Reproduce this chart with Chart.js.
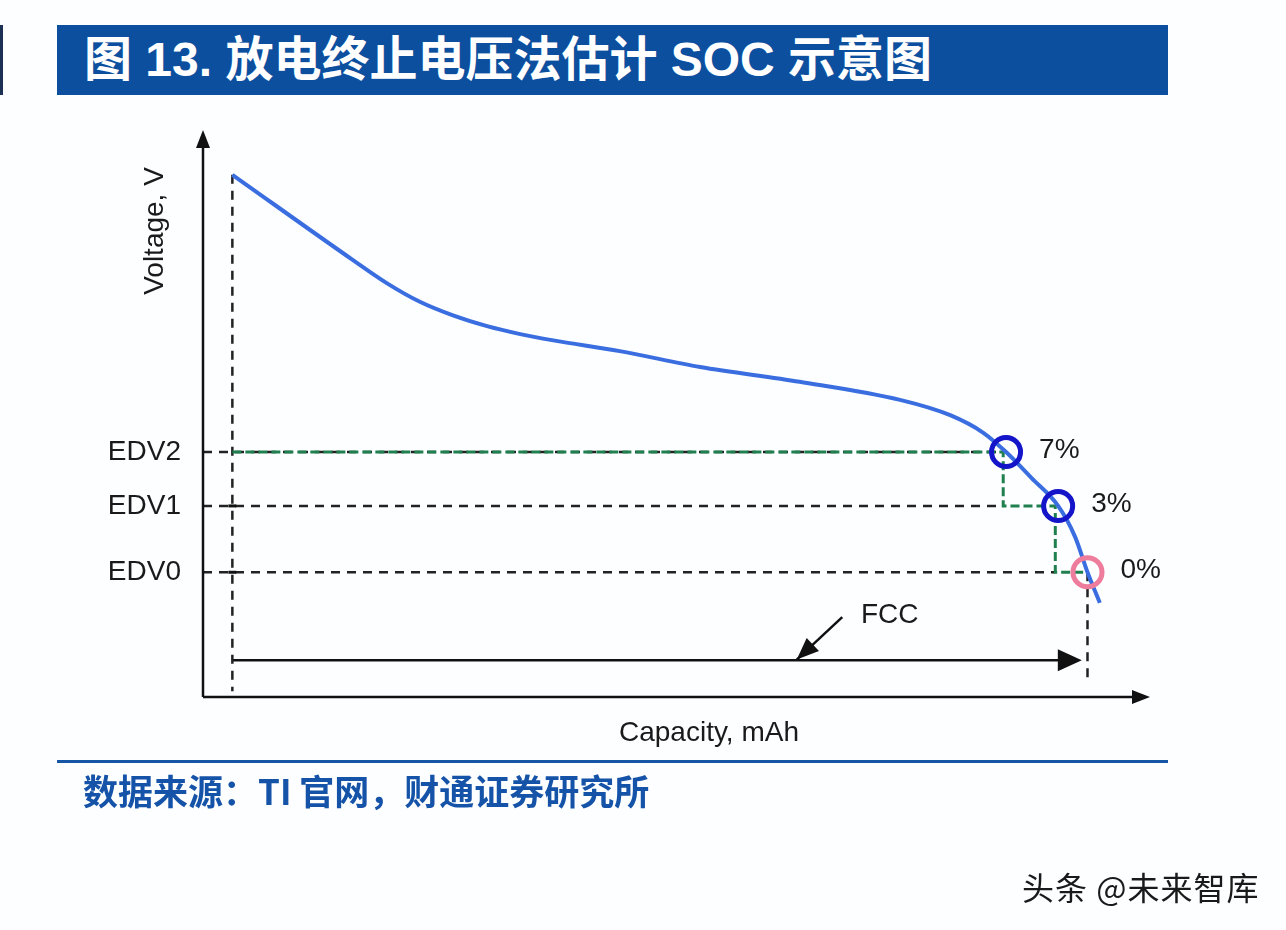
<!DOCTYPE html>
<html>
<head>
<meta charset="utf-8">
<script src="https://cdn.jsdelivr.net/npm/chart.js@4.4.1/dist/chart.umd.min.js"></script>
<style>
  body { margin: 0; background: #fdfeff; }
  #wrap { position: relative; width: 1286px; height: 930px; overflow: hidden; }
  #chart { position: absolute; left: 0; top: 0; }
  #barra { position: absolute; left: 0; top: 25px; width: 3px; height: 70px; background: #1c2f55; }
  #titulo { position: absolute; left: 57px; top: 25px; width: 1111px; height: 70px; background: #0c4f9f;
            color: #fff; font: bold 48px "Liberation Sans", "Noto Sans CJK SC", sans-serif; line-height: 70px;
            padding-left: 27px; box-sizing: border-box; white-space: nowrap; }
  #linha { position: absolute; left: 57px; top: 760px; width: 1111px; height: 3px; background: #1656a4; }
  #fonte { position: absolute; left: 83px; top: 764px; color: #1553a8;
           font: bold 35px "Noto Sans CJK SC", sans-serif; white-space: nowrap; }
  #marca { position: absolute; left: 1022px; top: 863px; color: #1a1a1a; letter-spacing: 1px;
           font: 32px "Noto Sans CJK SC", sans-serif; white-space: nowrap; }
</style>
</head>
<body>
<div id="wrap">
  <canvas id="chart" width="1286" height="930"></canvas>
  <div id="barra"></div>
  <div id="titulo">图 13. 放电终止电压法估计 SOC 示意图</div>
  <div id="linha"></div>
  <div id="fonte">数据来源：TI 官网，财通证券研究所</div>
  <div id="marca">头条 @未来智库</div>
</div>
<script>
// dados (unidades relativas: 0-100 em cada eixo)
const capacidade = [3.1, 15.8, 19.4, 22.9, 26.4, 30.0, 33.5, 37.0, 44.0, 52.5, 63.0, 73.6, 78.9, 82.4, 84.8, 87.5, 90.3, 92.1, 93.4, 94.7];
const tensao     = [92.1, 77.1, 73.0, 69.7, 67.3, 65.4, 64.0, 62.9, 61.0, 58.2, 55.6, 52.4, 49.7, 46.6, 43.2, 38.6, 33.7, 28.2, 22.0, 16.6];

const edvNomes   = ['EDV2', 'EDV1', 'EDV0'];
const edvTensao  = [43.2, 33.7, 22.0];
const edvCap     = [84.8, 90.3, 93.4];
const socLabels  = ['7%', '3%', '0%'];
const corCirculo = ['#1414c8', '#1414c8', '#ee7c9c'];

const degrauCap  = [3.1, 84.5, 90.0, 93.2];   // linha verde (degraus)
const degrauV    = [43.2, 33.7, 22.0, 22.0];
const fimTracejado = [84.5, 84.5, 90.0];      // onde os tracejados pretos terminam

const inicioCap  = 3.1;
const fccY       = 6.5;
const fccFim     = 92.8;
const setaFcc    = [{x: 67.5, y: 14.1}, {x: 62.7, y: 6.6}];

function pontos(xs, ys) {
  return xs.map((x, i) => ({x: x, y: ys[i]}));
}

//PARTE DO GRÁFICO
const datasets = [];

datasets.push({
  label: 'circulos',
  type: 'scatter',
  data: pontos(edvCap, edvTensao),
  pointRadius: 14.5,
  pointHoverRadius: 14.5,
  pointBorderWidth: 5,
  pointBackgroundColor: 'rgba(0,0,0,0)',
  pointBorderColor: corCirculo,
  order: 0
});

datasets.push({
  label: 'curva',
  data: pontos(capacidade, tensao),
  borderColor: '#3a6ee0',
  borderWidth: 4,
  pointRadius: 0,
  cubicInterpolationMode: 'monotone',
  order: 1
});

datasets.push({
  label: 'verde',
  data: pontos(degrauCap, degrauV),
  stepped: 'before',
  borderColor: '#1f7f4e',
  borderWidth: 3,
  borderDash: [9, 4],
  pointRadius: 0,
  order: 2
});

// tracejados pretos horizontais
for (let i = 0; i < edvTensao.length; i++) {
  datasets.push({
    label: 'h' + i,
    data: [{x: 0, y: edvTensao[i]}, {x: fimTracejado[i], y: edvTensao[i]}],
    borderColor: '#222',
    borderWidth: 2.5,
    borderDash: [9, 7],
    pointRadius: 0,
    order: 3
  });
}
// tracejados verticais
datasets.push({
  label: 'v0',
  data: [{x: inicioCap, y: tensao[0]}, {x: inicioCap, y: 1.0}],
  borderColor: '#222', borderWidth: 2.5, borderDash: [9, 7], pointRadius: 0, order: 3
});
datasets.push({
  label: 'v1',
  data: [{x: edvCap[2], y: edvTensao[2]}, {x: edvCap[2], y: 3.5}],
  borderColor: '#222', borderWidth: 2.5, borderDash: [9, 7], pointRadius: 0, order: 3
});
// FCC
datasets.push({
  label: 'fcc',
  data: [{x: inicioCap, y: fccY}, {x: fccFim - 1, y: fccY}],
  borderColor: '#111', borderWidth: 2.5, pointRadius: 0, order: 3
});
datasets.push({
  label: 'seta',
  data: setaFcc,
  borderColor: '#111', borderWidth: 2.5, pointRadius: 0, order: 3
});

function seta(ctx, x1, y1, x2, y2, comp, larg) {
  const ang = Math.atan2(y2 - y1, x2 - x1);
  ctx.save();
  ctx.translate(x2, y2);
  ctx.rotate(ang);
  ctx.beginPath();
  ctx.moveTo(0, 0);
  ctx.lineTo(-comp, -larg);
  ctx.lineTo(-comp, larg);
  ctx.closePath();
  ctx.fill();
  ctx.restore();
}

const desenhos = {
  id: 'desenhos',
  afterDatasetsDraw(chart) {
    const ctx = chart.ctx;
    const sx = chart.scales.x;
    const sy = chart.scales.y;
    const x0 = sx.getPixelForValue(0), y0 = sy.getPixelForValue(0);
    const xMax = sx.getPixelForValue(100), yMax = sy.getPixelForValue(100);
    ctx.save();
    ctx.strokeStyle = '#111';
    ctx.fillStyle = '#111';
    ctx.lineWidth = 2.5;
    // eixos
    ctx.beginPath();
    ctx.moveTo(x0, y0); ctx.lineTo(x0, yMax + 12);
    ctx.moveTo(x0, y0); ctx.lineTo(xMax - 12, y0);
    ctx.stroke();
    seta(ctx, x0, y0, x0, yMax, 18, 7);
    seta(ctx, x0, y0, xMax, y0, 18, 7);
    // cruzes nos tracejados
    const xi = sx.getPixelForValue(inicioCap);
    for (let i = 1; i < edvTensao.length; i++) {
      const yy = sy.getPixelForValue(edvTensao[i]);
      ctx.fillRect(xi - 4, yy - 1.5, 8, 3);
    }
    // pontas FCC
    seta(ctx, xi, sy.getPixelForValue(fccY), sx.getPixelForValue(fccFim), sy.getPixelForValue(fccY), 24, 11);
    seta(ctx, sx.getPixelForValue(setaFcc[0].x), sy.getPixelForValue(setaFcc[0].y), sx.getPixelForValue(setaFcc[1].x), sy.getPixelForValue(setaFcc[1].y), 22, 9);

    ctx.font = '28px "Liberation Sans", Arial, sans-serif';
    ctx.fillStyle = '#1a1a1a';
    ctx.textBaseline = 'middle';
    // EDV
    ctx.textAlign = 'right';
    for (let i = 0; i < edvNomes.length; i++) {
      ctx.fillText(edvNomes[i], x0 - 22, sy.getPixelForValue(edvTensao[i]));
    }
    // percentagens
    ctx.textAlign = 'left';
    for (let i = 0; i < socLabels.length; i++) {
      ctx.fillText(socLabels[i], sx.getPixelForValue(edvCap[i]) + 33, sy.getPixelForValue(edvTensao[i]) - 2);
    }
    ctx.fillText('FCC', 861, 615);
    // titulos dos eixos
    ctx.textAlign = 'center';
    ctx.fillText('Capacity, mAh', 709, 733);
    ctx.save();
    ctx.translate(155, 231);
    ctx.rotate(-Math.PI / 2);
    ctx.fillText('Voltage, V', 0, 0);
    ctx.restore();
    ctx.restore();
  }
};

const config = {
  type: 'line',
  data: { datasets: datasets },
  options: {
    responsive: false,
    animation: false,
    layout: { padding: { left: 203, right: 136, top: 130, bottom: 233 } },
    scales: {
      x: { type: 'linear', min: 0, max: 100, display: false },
      y: { type: 'linear', min: 0, max: 100, display: false }
    },
    plugins: { legend: { display: false }, tooltip: { enabled: false } },
    elements: { line: { fill: false } }
  },
  plugins: [desenhos]
};

const myChart = new Chart(document.getElementById('chart'), config);
</script>
</body>
</html>
